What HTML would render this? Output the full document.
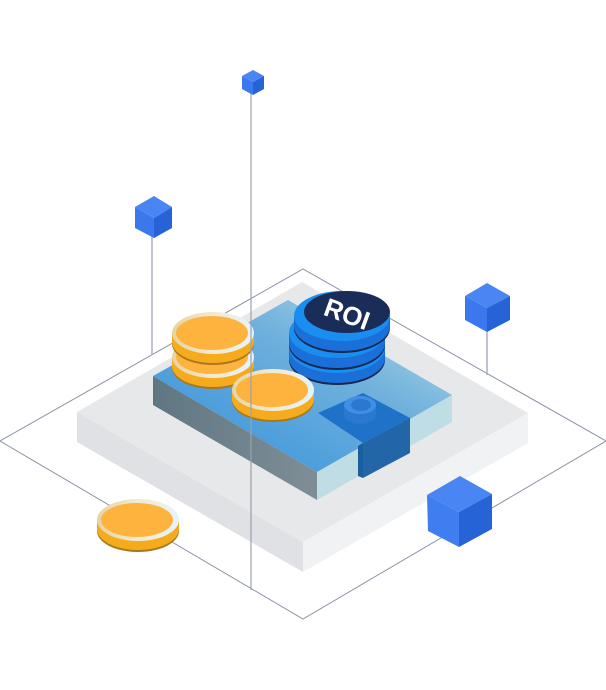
<!DOCTYPE html>
<html><head><meta charset="utf-8"><style>html,body{margin:0;padding:0;background:#fff}svg{display:block}</style></head><body>
<svg width="606" height="690" viewBox="0 0 606 690" xmlns="http://www.w3.org/2000/svg">
<defs>
<linearGradient id="rim" x1="0" y1="0" x2="1" y2="0"><stop offset="0" stop-color="#e6d3a2"/><stop offset="0.5" stop-color="#f3ead2"/><stop offset="1" stop-color="#e3f4fa"/></linearGradient>
<linearGradient id="btop" x1="0" y1="1" x2="1" y2="0"><stop offset="0" stop-color="#2f8fdc"/><stop offset="0.6" stop-color="#6fb0dc"/><stop offset="1" stop-color="#b8dfe8"/></linearGradient>
<linearGradient id="bleft" x1="0" y1="0" x2="1" y2="0"><stop offset="0" stop-color="#5f7783"/><stop offset="1" stop-color="#7f8e96"/></linearGradient>
<g id="coin">
<rect x="-41" y="0" width="82" height="11" fill="#f0a81c"/>
<ellipse cx="0" cy="11" rx="41" ry="21" fill="#a9781c"/>
<ellipse cx="0" cy="9" rx="41" ry="21" fill="#f5ab1c"/>
<ellipse cx="0" cy="0" rx="41" ry="21" fill="url(#rim)"/>
<ellipse cx="-1" cy="0" rx="36" ry="17" fill="#fdb33d"/>
</g>
<g id="bcoin">
<rect x="-48" y="0" width="96" height="12" fill="#1266d0"/>
<ellipse cx="0" cy="12" rx="48" ry="25" fill="#16284f"/>
<ellipse cx="0" cy="10" rx="48" ry="25" fill="#1a6fd8"/>
<ellipse cx="0" cy="0" rx="48" ry="25" fill="#1a8df0"/>
</g>
</defs>
<polygon points="0,441 303,269 606,441 303,619" fill="none" stroke="#8a93a8" stroke-width="1"/>
<line x1="152" y1="235" x2="152" y2="355" stroke="#a9b0bf" stroke-width="1.5"/>
<line x1="487" y1="330" x2="487" y2="375" stroke="#a9b0bf" stroke-width="1.5"/>
<polygon points="77,412 303,542 303,572 77,442" fill="#dfe1e4"/>
<polygon points="303,542 528,413 528,443 303,572" fill="#f1f2f3"/>
<polygon points="77,412 302,282 528,413 303,542" fill="#e7e8ea"/>
<polygon points="153,376 317,472 317,500 153,405" fill="url(#bleft)"/>
<polygon points="317,472 452,395 452,422 317,500" fill="#bedde4"/>
<polygon points="153,376 288,300 452,395 317,472" fill="url(#btop)"/>
<polygon points="318,413 363,393 410,418 363,443" fill="#1e73c8"/>
<polygon points="363,443 410,418 410,453 363,478" fill="#2366a8"/>
<polygon points="358,446 363,443 363,478 358,476" fill="#1a5e9e"/>
<rect x="344" y="405" width="32" height="10" fill="#2a78d0"/>
<ellipse cx="360" cy="415" rx="16" ry="9" fill="#2a78d0"/>
<ellipse cx="360" cy="405" rx="16" ry="9" fill="#3f8fe6"/>
<ellipse cx="361" cy="405" rx="10" ry="6" fill="#2a78d0"/>
<use href="#coin" x="213" y="357"/>
<use href="#coin" x="213" y="333"/>
<use href="#bcoin" x="337" y="348"/>
<use href="#bcoin" x="337" y="333"/>
<use href="#bcoin" x="342" y="316"/>
<ellipse cx="347" cy="312" rx="43" ry="21" fill="#1a2c58"/>
<text x="347" y="323" transform="rotate(20 347 314)" text-anchor="middle" font-family="Liberation Sans, sans-serif" font-weight="bold" font-size="26" fill="#fff">ROI</text>
<use href="#coin" x="273" y="390"/>
<use href="#coin" x="138" y="520"/>
<line x1="251" y1="92" x2="251" y2="590" stroke="#9aa2b2" stroke-width="1.2"/>
<g>
<polygon points="253,70 264,76 253,82 242,76" fill="#4a86f3"/>
<polygon points="242,76 253,82 253,95 242,89" fill="#3b78ee"/>
<polygon points="253,82 264,76 264,89 253,95" fill="#2563d6"/>
</g>
<g>
<polygon points="154,196 172,207 154,218 135,207" fill="#4a86f3"/>
<polygon points="135,207 154,218 154,238 135,228" fill="#3b78ee"/>
<polygon points="154,218 172,207 172,228 154,238" fill="#2563d6"/>
</g>
<g>
<polygon points="487,283 510,296 487,308 465,296" fill="#4a86f3"/>
<polygon points="465,296 487,308 487,332 465,320" fill="#3b78ee"/>
<polygon points="487,308 510,296 510,320 487,332" fill="#2563d6"/>
</g>
<g>
<polygon points="460,476 492,494 459,512 427,495" fill="#4a86f3"/>
<polygon points="427,495 459,512 459,547 428,531" fill="#3f7ef0"/>
<polygon points="459,512 492,494 492,529 459,547" fill="#2563d6"/>
</g>
</svg>
</body></html>
